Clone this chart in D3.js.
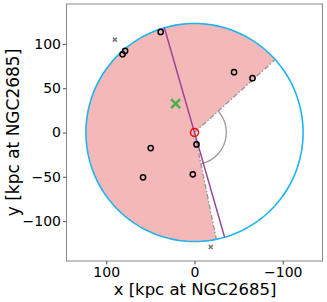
<!DOCTYPE html>
<html>
<head>
<meta charset="utf-8">
<script src="https://cdn.jsdelivr.net/npm/d3@7"></script>
<style>
  body { margin: 0; background: #fff; }
  svg { font-family: "DejaVu Sans", sans-serif; }
</style>
</head>
<body>
<div id="chart"></div>
<script>
// satellites (kpc at NGC2685)
var satX = [38.3, 81.5, 78.6, -44.8, -65.7, -2.3, 49.6, 58.3, 1.9]
var satY = [113.5, 88.3, 92.1, 68.1, 61.3, -13.5, -17.6, -50.6, -47.2]
// background objects
var bgX = [90.2, -18.4]
var bgY = [104.8, -129.2]
// offset centre (green cross)
var crossX = [21.4]
var crossY = [32.6]
// virial radius, wedge edges, major axis (deg)
var rVir = 123
var wedgeStart = 258.4
var wedgeEnd = 138 + 360
var majorAxis = 73.9
var arcRadius = 36
var xTicks = [100, 0, -100]
var yTicks = [100, 50, 0, -50, -100]

var width = 327, height = 302
var svg = d3.select("#chart").append("svg")
  .attr("width", width)
  .attr("height", height)

var x = d3.scaleLinear().domain([145, -145]).range([66.5, 322.5])
var y = d3.scaleLinear().domain([-145, 145]).range([261, 4])

var rad = Math.PI / 180
function polar(r, deg) { return [x(r * Math.cos(deg * rad)), y(r * Math.sin(deg * rad))] }

var line = d3.line()

// pink wedge
var wedge = [[x(0), y(0)]]
for (var a = wedgeStart; a <= wedgeEnd; a += 1) wedge.push(polar(rVir, a))
wedge.push(polar(rVir, wedgeEnd))
svg.append("path")
  .attr("d", line(wedge) + "Z")
  .attr("fill", "#f4b8b8")

// circle
var circ = []
for (var a = 0; a <= 360; a += 2) circ.push(polar(rVir, a))
svg.append("path")
  .attr("d", line(circ) + "Z")
  .attr("fill", "none")
  .attr("stroke", "#1db5ef")
  .attr("stroke-width", 1.6)

// wedge edges
;[wedgeStart, wedgeEnd].forEach(function(a) {
  svg.append("path")
    .attr("d", line([[x(0), y(0)], polar(rVir, a)]))
    .attr("stroke", "#999")
    .attr("stroke-width", 1.4)
    .attr("stroke-dasharray", "5,2,1.5,2")
})

// opening angle arc
var arcPts = []
for (var a = 138; a <= wedgeStart; a += 1) arcPts.push(polar(arcRadius, a))
svg.append("path")
  .attr("d", line(arcPts))
  .attr("fill", "none")
  .attr("stroke", "#999")
  .attr("stroke-width", 1.3)

// major axis
svg.append("path")
  .attr("d", line([polar(rVir, majorAxis), polar(rVir, majorAxis + 180)]))
  .attr("stroke", "#9a3f96")
  .attr("stroke-width", 1.4)

// satellites
svg.selectAll(".sat")
  .data(d3.range(satX.length))
  .enter().append("circle")
  .attr("cx", function(i) { return x(satX[i]) })
  .attr("cy", function(i) { return y(satY[i]) })
  .attr("r", 2.6)
  .attr("fill", "none")
  .attr("stroke", "#000")
  .attr("stroke-width", 1.5)

// host
svg.append("circle")
  .attr("cx", x(0)).attr("cy", y(0))
  .attr("r", 4)
  .attr("fill", "none")
  .attr("stroke", "red")
  .attr("stroke-width", 1.5)

function cross(cx, cy, s, color, w) {
  svg.append("path")
    .attr("d", "M" + (cx - s) + "," + (cy - s) + "L" + (cx + s) + "," + (cy + s) +
      "M" + (cx - s) + "," + (cy + s) + "L" + (cx + s) + "," + (cy - s))
    .attr("stroke", color)
    .attr("stroke-width", w)
}
bgX.forEach(function(d, i) { cross(x(d), y(bgY[i]), 2, "#777", 1.5) })
cross(x(crossX[0]), y(crossY[0]), 4.5, "#4daf4a", 2.5)

// axes frame
svg.append("rect")
  .attr("x", 66.5).attr("y", 4)
  .attr("width", 256).attr("height", 257)
  .attr("fill", "none")
  .attr("stroke", "#888")
  .attr("stroke-width", 1)

var fmt = function(d) { return d < 0 ? "\u2212" + (-d) : d }
var xAxis = svg.append("g")
  .attr("transform", "translate(0,261)")
  .call(d3.axisBottom(x).tickValues(xTicks).tickSize(3.5).tickPadding(3).tickFormat(fmt))
var yAxis = svg.append("g")
  .attr("transform", "translate(66.5,0)")
  .call(d3.axisLeft(y).tickValues(yTicks).tickSize(3.5).tickPadding(2).tickFormat(fmt))
;[xAxis, yAxis].forEach(function(g) {
  g.select(".domain").remove()
  g.selectAll("line").attr("stroke", "#555")
  g.selectAll("text").attr("font-size", 14).attr("fill", "#000").attr("font-family", "DejaVu Sans")
})

svg.append("text")
  .attr("x", 195).attr("y", 294.5)
  .attr("text-anchor", "middle")
  .attr("font-size", 16.5)
  .text("x [kpc at NGC2685]")

svg.append("text")
  .attr("transform", "translate(19,132.5) rotate(-90)")
  .attr("text-anchor", "middle")
  .attr("font-size", 17)
  .text("y [kpc at NGC2685]")
</script>
</body>
</html>
